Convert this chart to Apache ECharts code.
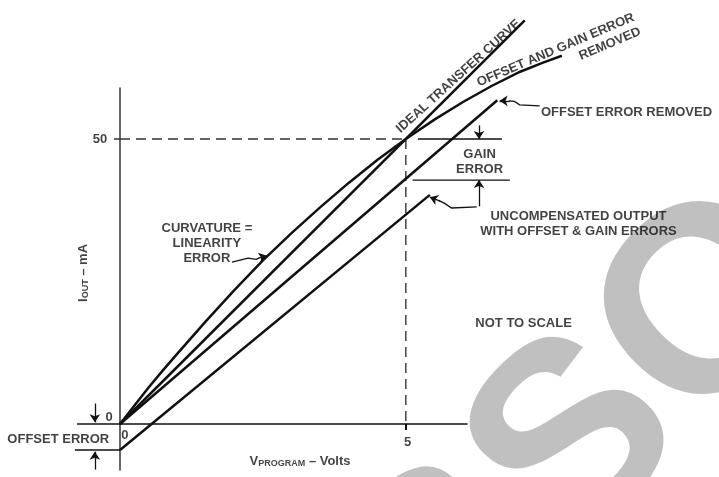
<!DOCTYPE html>
<html>
<head>
<meta charset="utf-8">
<script src="https://cdn.jsdelivr.net/npm/echarts@6/dist/echarts.min.js"></script>
<style>
  html, body { margin: 0; padding: 0; background: #fff; }
  #chart { width: 719px; height: 477px; }
</style>
</head>
<body>
<div id="chart"></div>
<script>
// ---- values (x: volts, y: mA) ----
const idealCurve = [[0, 0], [7.08, 70.8]];
const gainRemovedCurve = [[0, 0], [0.25, 3.2], [0.5, 6.4], [0.75, 9.4], [1, 12.3], [1.5, 18.0], [2, 23.5],
  [2.5, 28.7], [3, 33.5], [3.5, 38.0], [4, 42.3], [4.5, 46.3], [5, 50], [5.5, 53.4], [6, 56.5],
  [6.5, 59.3], [7, 61.8], [7.4, 63.4], [7.73, 64.6]];
const offsetRemovedLine = [[0, 0], [6.6, 56.8]];
const uncompensatedLine = [[0, -4.56], [5.42, 40.2]];

const xTicks = [0, 5];
const yTicks = [0, 50];
const fullScale = { x: 5, y: 50 };
const offsetError = -4.56;
const gainErrorLevel = 42.8;

const xName = ['V', 'PROGRAM', ' – Volts'];
const yName = ['I', 'OUT', ' – mA'];
const annotationTexts = {
  ideal: 'IDEAL TRANSFER CURVE',
  gainRemoved: 'OFFSET AND GAIN ERROR',
  gainRemoved2: 'REMOVED',
  offsetRemoved: 'OFFSET ERROR REMOVED',
  gainError: 'GAIN\nERROR',
  uncompensated: 'UNCOMPENSATED OUTPUT\nWITH OFFSET & GAIN ERRORS',
  curvature: 'CURVATURE =\nLINEARITY\nERROR',
  notToScale: 'NOT TO SCALE',
  offsetError: 'OFFSET ERROR'
};
const watermark = 'OBSOLETE';

// ---- chart ----
const FONT = '"Liberation Sans", Arial, Helvetica, sans-serif';
const chart = echarts.init(document.getElementById('chart'));

function seg(coords, opts) {
  opts = opts || {};
  return {
    coords,
    lineStyle: {
      color: opts.color || '#111', width: opts.width || 1.3, opacity: 1,
      type: opts.dash ? [10, 6] : 'solid'
    }
  };
}

// transfer curves drawn as polylines so they can run past the axis box
const curves = [idealCurve, gainRemovedCurve, offsetRemovedLine, uncompensatedLine]
  .map(c => seg(c, { width: 2.5 }));

// plain annotation segments and leader tails
const plainSegments = [
  seg([[0, fullScale.y], [fullScale.x, fullScale.y]], { dash: true, color: '#333', width: 1.4 }),
  seg([[fullScale.x, fullScale.y], [fullScale.x, 0]], { dash: true, color: '#333', width: 1.4 }),
  seg([[5.21, fullScale.y], [6.68, fullScale.y]]),
  seg([[5.12, gainErrorLevel], [6.82, gainErrorLevel]]),
  seg([[-0.75, 0], [0, 0]]),
  seg([[-0.79, offsetError], [0, offsetError]]),
  seg([[6.8, 56.7], [6.9, 56.6], [6.99, 56.0], [7.34, 55.8]]),
  seg([[5.58, 39.2], [5.68, 38.7], [5.8, 37.9], [6.24, 38.1]]),
  seg([[2.43, 29.1], [2.38, 28.9], [2.24, 29.1], [1.96, 28.4]])
];

// arrow shafts (first coord is the arrow tip)
const arrowSegments = [
  seg([[6.28, fullScale.y], [6.28, 52.4]]),
  seg([[6.28, gainErrorLevel], [6.28, 38.2]]),
  seg([[-0.44, 0.3], [-0.44, 3.6]]),
  seg([[-0.44, -4.85], [-0.44, -8.0]]),
  seg([[6.64, 56.7], [6.82, 56.7]]),
  seg([[5.42, 39.8], [5.6, 39.1]]),
  seg([[2.57, 29.5], [2.42, 29.1]])
];

function txt(value, text, extra) {
  return { value, label: Object.assign({ formatter: text }, extra || {}) };
}

const labels = [
  txt([5.92, 61.0], annotationTexts.ideal, { rotate: 42 }),
  txt([7.62, 65.6], annotationTexts.gainRemoved, { rotate: 23 }),
  txt([8.57, 66.7], annotationTexts.gainRemoved2, { rotate: 23 }),
  txt([8.86, 54.7], annotationTexts.offsetRemoved),
  txt([6.29, 45.9], annotationTexts.gainError),
  txt([8.02, 35.1], annotationTexts.uncompensated),
  txt([1.52, 31.7], annotationTexts.curvature),
  txt([7.06, 17.7], annotationTexts.notToScale),
  txt([-1.08, -2.63], annotationTexts.offsetError),
  // tick labels
  txt([0.087, -1.93], String(xTicks[0])),
  txt([5.03, -3.16], String(xTicks[1])),
  txt([-0.19, 1.23], String(yTicks[0])),
  txt([-0.35, 50], String(yTicks[1])),
  // axis names
  txt([3.15, -6.49], '{b|' + xName[0] + '}{s|' + xName[1] + '}{b|' + xName[2] + '}'),
  txt([-0.647, 26.5], '{b|' + yName[0] + '}{s|' + yName[1] + '}{b|' + yName[2] + '}', { rotate: 90 })
];

chart.setOption({
  animation: false,
  backgroundColor: '#fff',
  grid: { left: 120, right: 252, top: 88, bottom: 7 },
  xAxis: {
    type: 'value', min: 0, max: 6.07,
    axisLine: { onZero: true, lineStyle: { color: '#111', width: 1.5 } },
    axisTick: { show: true, customValues: [fullScale.x], length: 6, lineStyle: { color: '#111', width: 2 } },
    axisLabel: { show: false },
    splitLine: { show: false }
  },
  yAxis: {
    type: 'value', min: -8.07, max: 58.95,
    axisLine: { onZero: false, lineStyle: { color: '#333', width: 1.5 } },
    axisTick: { show: true, customValues: [fullScale.y], length: 6, lineStyle: { color: '#333', width: 1.5 } },
    axisLabel: { show: false },
    splitLine: { show: false }
  },
  graphic: [{
    type: 'text', x: 750, y: 274, rotation: 0.785, z: -10, silent: true,
    style: {
      text: watermark, fill: '#c0c0c0', font: 'bold 265px ' + FONT,
      textAlign: 'center', textVerticalAlign: 'middle', align: 'center', verticalAlign: 'middle'
    }
  }],
  series: [
    {
      type: 'lines', coordinateSystem: 'cartesian2d', polyline: true, clip: false, z: 5, silent: true,
      symbol: 'none', data: curves
    },
    {
      type: 'lines', coordinateSystem: 'cartesian2d', polyline: true, clip: false, z: 4, silent: true,
      symbol: 'none', data: plainSegments
    },
    {
      type: 'lines', coordinateSystem: 'cartesian2d', polyline: false, clip: false, z: 4, silent: true,
      symbol: ['arrow', 'none'], symbolSize: 8, data: arrowSegments
    },
    {
      type: 'scatter', symbolSize: 0, z: 6, silent: true, clip: false,
      label: {
        show: true, position: 'inside', color: '#111', fontFamily: FONT, fontWeight: 'bold',
        fontSize: 13, lineHeight: 15, align: 'center',
        rich: {
          b: { fontFamily: FONT, fontWeight: 'bold', fontSize: 13, color: '#111' },
          s: { fontFamily: FONT, fontWeight: 'bold', fontSize: 9, color: '#111', padding: [6, 0, 0, 0] }
        }
      },
      data: labels
    }
  ]
});
</script>
</body>
</html>
